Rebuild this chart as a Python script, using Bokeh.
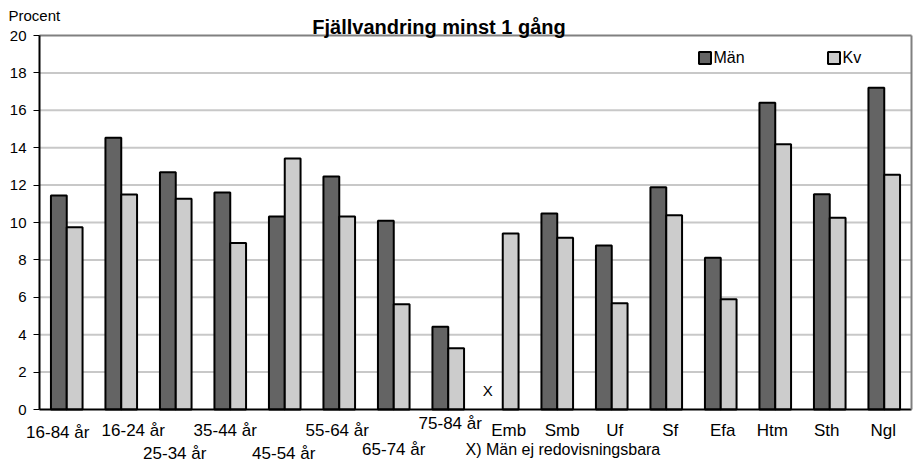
from bokeh.plotting import figure
from bokeh.models import (ColumnDataSource, Label, Legend, LegendItem, FixedTicker, Range1d,
                          LinearAxis)
from bokeh.transform import dodge
from bokeh.embed import file_html
from bokeh.resources import INLINE

categories = ["16-84 år", "16-24 år", "25-34 år", "35-44 år", "45-54 år", "55-64 år",
              "65-74 år", "75-84 år", "Emb", "Smb", "Uf", "Sf", "Efa", "Htm", "Sth", "Ngl"]
man = [11.44, 14.53, 12.69, 11.6, 10.32, 12.46, 10.1, 4.42, float("nan"), 10.48, 8.77,
       11.89, 8.11, 16.4, 11.51, 17.2]
kv = [9.75, 11.5, 11.27, 8.91, 13.42, 10.32, 5.63, 3.28, 9.41, 9.18, 5.68, 10.39, 5.9,
      14.19, 10.25, 12.55]
y_ticks = [0, 2, 4, 6, 8, 10, 12, 14, 16, 18, 20]
series_names = ["Män", "Kv"]
missing_mark = "X"
note = "X) Män ej redovisningsbara"
title_text = "Fjällvandring minst 1 gång"
y_title = "Procent"

# ---- layout (pixels) ----
W, H = 915, 465
AX_L, AX_R, AX_T, AX_B = 39, 911, 35, 409
# category labels: horizontal nudge and distance below the axis line
label_dx = [-9, 12, -1, -5, -1, -2, 0, 2, 6, 5, 3, 4, 2, -3, -3, -1]
label_drop = [23, 21, 44, 21, 44, 21, 40, 14, 21, 21, 21, 21, 21, 21, 21, 21]

FONT = "Liberation Sans"
DARK = "#646464"
LIGHT = "#cccccc"
GRID = "#c8c8c8"
FRAME = "#808080"

n = len(categories)
ymax = y_ticks[-1]
xpx = (AX_R - AX_L) / n
ypx = (AX_B - AX_T) / ymax

pos = [i + 0.5 for i in range(n)]
src = ColumnDataSource(dict(pos=pos, man=man, kv=kv))

p = figure(width=W, height=H, output_backend="svg", toolbar_location=None,
           x_range=Range1d(-AX_L / xpx, n + (W - AX_R) / xpx),
           y_range=Range1d(-(H - AX_B) / ypx, ymax + AX_T / ypx),
           min_border=0)
p.title = None
p.outline_line_color = None
p.xgrid.visible = False
p.ygrid.visible = False

# horizontal gridlines inside the plot area
grid_y = y_ticks[1:-1]
p.segment(x0=[0] * len(grid_y), x1=[n] * len(grid_y), y0=grid_y, y1=grid_y,
          line_color=GRID, line_width=2, level="underlay")

bw = 0.29
r_man = p.vbar(x=dodge("pos", -bw / 2), top="man", width=bw, source=src,
               fill_color=DARK, line_color="black", line_width=2)
r_kv = p.vbar(x=dodge("pos", bw / 2), top="kv", width=bw, source=src,
              fill_color=LIGHT, line_color="black", line_width=2)

# y axis (left, black) at x = 0
p.yaxis.fixed_location = 0
p.yaxis.bounds = (0, ymax)
p.yaxis.ticker = FixedTicker(ticks=y_ticks)
p.yaxis.axis_line_color = "black"
p.yaxis.axis_line_width = 2
p.yaxis.major_tick_out = 6
p.yaxis.major_tick_in = 0
p.yaxis.major_tick_line_color = "black"
p.yaxis.minor_tick_line_color = None
p.yaxis.major_label_text_font = FONT
p.yaxis.major_label_text_font_size = "15px"
p.yaxis.major_label_text_color = "black"
p.yaxis.major_label_standoff = 7

# x axis (bottom, black) at y = 0
p.xaxis.fixed_location = 0
p.xaxis.bounds = (0, n)
p.xaxis.ticker = FixedTicker(ticks=[])
p.xaxis.axis_line_color = "black"
p.xaxis.axis_line_width = 2
p.xaxis.major_tick_line_color = None
p.xaxis.minor_tick_line_color = None
p.xaxis.major_label_text_font_size = "0px"

# grey frame on top and right
top_ax = LinearAxis(fixed_location=ymax, bounds=(0, n), ticker=FixedTicker(ticks=[]),
                    axis_line_color=FRAME, axis_line_width=2, major_tick_line_color=None,
                    minor_tick_line_color=None, major_label_text_font_size="0px")
p.add_layout(top_ax, "above")
right_ax = LinearAxis(fixed_location=n, bounds=(0, ymax), ticker=FixedTicker(ticks=[]),
                      axis_line_color=FRAME, axis_line_width=2, major_tick_line_color=None,
                      minor_tick_line_color=None, major_label_text_font_size="0px")
p.add_layout(right_ax, "right")

base = H - AX_B  # screen height of the value 0 above the canvas bottom
for i, cat in enumerate(categories):
    p.add_layout(Label(x=pos[i], y=base - label_drop[i], x_units="data", y_units="screen",
                       x_offset=label_dx[i], text=cat, text_align="center",
                       text_baseline="middle", text_font=FONT, text_font_size="17px",
                       text_color="black"))

p.add_layout(Label(x=465, y=H - 449, x_units="screen", y_units="screen", text=note,
                   text_align="left", text_baseline="middle", text_font=FONT,
                   text_font_size="16px", text_color="black"))

p.add_layout(Label(x=pos[8] - bw / 2, y=1.0, x_units="data", y_units="data", x_offset=-7,
                   text=missing_mark, text_align="center", text_baseline="middle",
                   text_font=FONT, text_font_size="15px", text_color="black"))

p.add_layout(Label(x=438.5, y=H - 26, x_units="screen", y_units="screen", text=title_text,
                   text_align="center", text_baseline="alphabetic", text_font=FONT,
                   text_font_size="20px", text_font_style="bold", text_color="black"))

p.add_layout(Label(x=8, y=H - 15, x_units="screen", y_units="screen", text=y_title,
                   text_align="left", text_baseline="middle", text_font=FONT,
                   text_font_size="15px", text_color="black"))

for name, r, lx in ((series_names[0], r_man, 696.5), (series_names[1], r_kv, 825.5)):
    lg = Legend(items=[LegendItem(label=name, renderers=[r])], location=(lx, H - 66.5),
                orientation="horizontal", border_line_color=None, background_fill_alpha=0,
                padding=0, margin=0, glyph_width=15, glyph_height=15, label_standoff=2,
                label_text_font=FONT, label_text_font_size="16px", label_text_color="black")
    p.add_layout(lg)

open("out.html", "w").write(file_html(p, INLINE))
